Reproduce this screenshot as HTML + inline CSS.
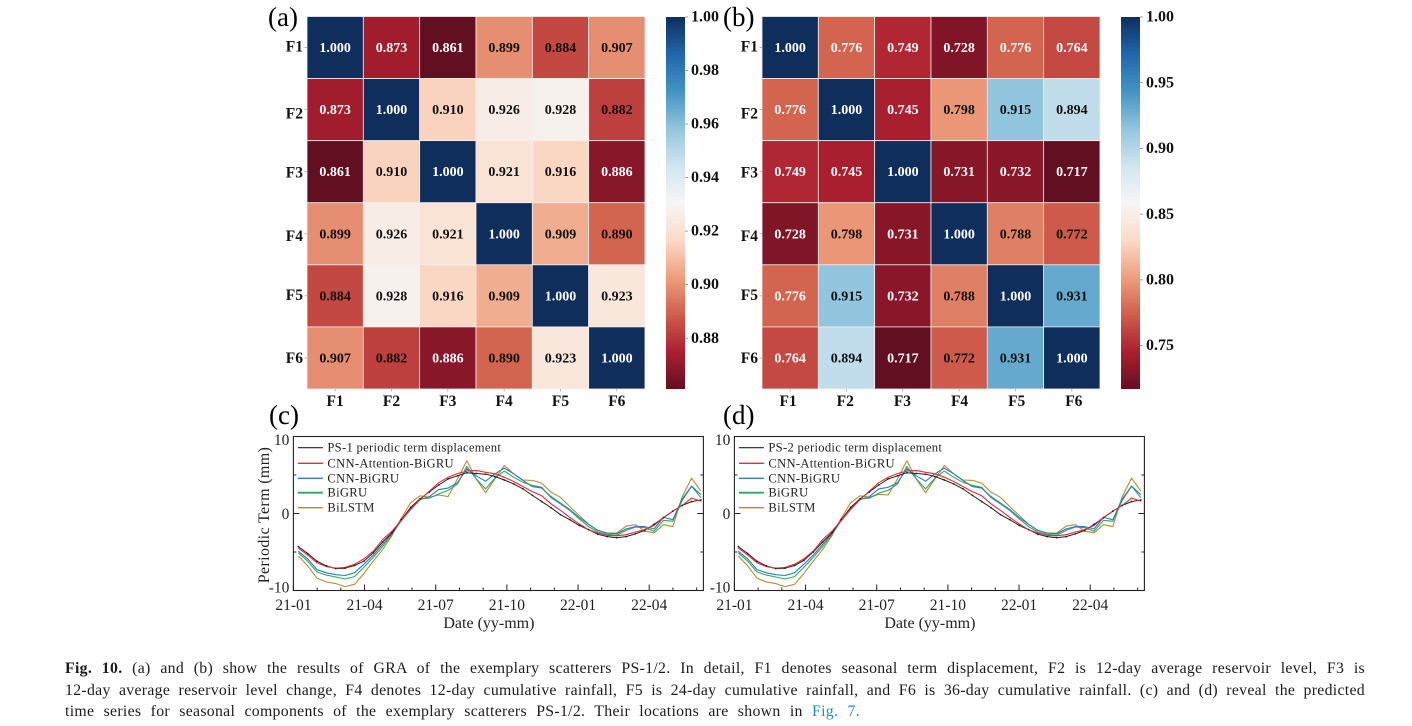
<!DOCTYPE html>
<html lang="en">
<head>
<meta charset="utf-8">
<title>Fig. 10 GRA results and predicted time series</title>
<style>
html,body{margin:0;padding:0;background:#fff;}
body{width:1412px;height:726px;overflow:hidden;position:relative;font-family:"Liberation Serif",serif;}
svg{position:absolute;left:0;top:0;}
.cap{position:absolute;left:65px;width:1300px;font-size:15.8px;line-height:18px;color:#1c1c1c;text-align:justify;text-align-last:justify;letter-spacing:.3px;white-space:nowrap;}
.cap b{font-weight:bold;}
.cap a{color:#1b8fc0;text-decoration:none;}
</style>
</head>
<body>
<svg id="fig" width="1412" height="726" viewBox="0 0 1412 726" xmlns="http://www.w3.org/2000/svg">
<defs>
<linearGradient id="rdbu" x1="0" y1="1" x2="0" y2="0">
<stop offset="0" stop-color="#630f22"/><stop offset=".1" stop-color="#ab1f2f"/><stop offset=".2" stop-color="#cf5e4c"/><stop offset=".3" stop-color="#ee9f7e"/><stop offset=".4" stop-color="#fbdac6"/><stop offset=".5" stop-color="#f6f6f6"/><stop offset=".6" stop-color="#d1e5f0"/><stop offset=".7" stop-color="#92c5de"/><stop offset=".8" stop-color="#4393c3"/><stop offset=".9" stop-color="#2166ac"/><stop offset="1" stop-color="#0f2e5c"/>
</linearGradient>
</defs>
<g id="panel-a"></g>
<g id="panel-b"></g>
<g id="panel-c"></g>
<g id="panel-d"></g>
<text x="268" y="26" font-size="27" font-family="Liberation Serif">(a)</text>
<text x="723" y="26" font-size="27" font-family="Liberation Serif">(b)</text>
<text x="269" y="424" font-size="27" font-family="Liberation Serif">(c)</text>
<text x="723" y="424" font-size="27" font-family="Liberation Serif">(d)</text>
</svg>
<div class="cap" style="top:660px"><b>Fig. 10.</b> (a) and (b) show the results of GRA of the exemplary scatterers PS-1/2. In detail, F1 denotes seasonal term displacement, F2 is 12-day average reservoir level, F3 is</div>
<div class="cap" style="top:682px">12-day average reservoir level change, F4 denotes 12-day cumulative rainfall, F5 is 24-day cumulative rainfall, and F6 is 36-day cumulative rainfall. (c) and (d) reveal the predicted</div>
<div class="cap" style="top:703px;width:795px">time series for seasonal components of the exemplary scatterers PS-1/2. Their locations are shown in <a href="#fig">Fig. 7.</a></div>
<script>
// ---- heatmap data ----
var factors = ['F1','F2','F3','F4','F5','F6'];
var valuesA = [
 [1.000,0.873,0.861,0.899,0.884,0.907],
 [0.873,1.000,0.910,0.926,0.928,0.882],
 [0.861,0.910,1.000,0.921,0.916,0.886],
 [0.899,0.926,0.921,1.000,0.909,0.890],
 [0.884,0.928,0.916,0.909,1.000,0.923],
 [0.907,0.882,0.886,0.890,0.923,1.000]
];
var valuesB = [
 [1.000,0.776,0.749,0.728,0.776,0.764],
 [0.776,1.000,0.745,0.798,0.915,0.894],
 [0.749,0.745,1.000,0.731,0.732,0.717],
 [0.728,0.798,0.731,1.000,0.788,0.772],
 [0.776,0.915,0.732,0.788,1.000,0.931],
 [0.764,0.894,0.717,0.772,0.931,1.000]
];
var ticksA = [1.00,0.98,0.96,0.94,0.92,0.90,0.88];
var ticksB = [1.00,0.95,0.90,0.85,0.80,0.75];
var whiteLabelsA = [1.000,0.873,0.861,0.886];
var whiteLabelsB = [1.000,0.776,0.764,0.749,0.745,0.732,0.731,0.728,0.717];
var colorShiftA = {'0.886':0.868,'0.907':0.899,'0.909':0.906,'0.910':0.915};

// ---- line chart data ----
var monthTicks = ['21-01','21-04','21-07','21-10','22-01','22-04'];
var yTicks = [10,0,-10];
var seriesNames = ['CNN-Attention-BiGRU','CNN-BiGRU','BiGRU','BiLSTM'];
var truthC = [-4.3,-5.2,-6.2,-6.8,-7.15,-7.1,-6.75,-6.2,-5.1,-3.7,-2.5,-0.8,0.8,1.9,2.8,3.7,4.5,4.9,5.3,5.2,5.1,4.8,4.35,3.85,3.2,2.35,1.55,0.75,-0.15,-0.8,-1.55,-2.1,-2.7,-3.0,-3.15,-3.0,-2.65,-2.2,-1.4,-0.55,0.3,1.05,1.55,1.75];
var attnC = [-4.5,-5.4,-6.4,-6.9,-7.1,-7.0,-6.6,-5.9,-4.9,-3.4,-2.3,-0.9,0.6,1.8,2.9,4.0,4.7,5.2,5.5,5.6,5.35,5.15,4.7,4.15,3.5,2.85,2.3,1.25,0.4,-0.5,-1.35,-2.1,-2.55,-2.85,-2.9,-2.75,-2.4,-2.1,-1.55,-0.5,0.3,1.05,2.0,1.6];
var cnnC = [-4.9,-5.9,-7.3,-7.7,-7.95,-8.05,-7.7,-6.6,-5.4,-4.0,-2.6,-0.9,0.5,1.8,2.2,3.1,3.3,4.0,5.8,4.9,4.2,5.15,5.9,5.15,4.3,3.5,3.3,2.2,1.35,0.5,-0.5,-1.4,-2.2,-2.55,-2.65,-2.0,-1.7,-1.7,-2.0,-0.5,-0.8,1.9,3.55,2.45];
var gruC = [-5.1,-6.2,-7.6,-8.0,-8.25,-8.5,-8.2,-7.0,-5.7,-4.3,-2.7,-0.9,0.6,1.9,2.0,2.55,3.0,3.85,6.1,4.5,3.2,4.6,5.5,4.7,4.05,3.65,3.4,2.05,1.25,0.4,-0.7,-1.7,-2.4,-2.7,-2.85,-2.2,-1.75,-1.85,-2.3,-0.9,-1.0,1.7,3.55,2.05];
var lstmC = [-5.5,-6.8,-8.4,-8.9,-9.1,-9.5,-9.2,-7.8,-6.2,-4.7,-2.9,-0.6,1.4,2.3,2.1,2.4,2.2,4.5,6.85,4.5,2.7,4.5,6.25,5.15,4.35,4.3,3.95,2.75,2.1,0.9,-0.25,-1.4,-2.2,-2.55,-2.55,-1.65,-1.45,-2.3,-2.5,-1.45,-1.7,2.2,4.6,2.9];
var truthD = [-4.3,-5.2,-6.2,-6.8,-7.15,-7.1,-6.75,-6.1,-5.0,-3.7,-2.5,-0.8,0.8,1.9,2.8,3.7,4.5,4.9,5.3,5.2,5.1,4.8,4.35,3.85,3.2,2.35,1.55,0.75,-0.15,-0.8,-1.55,-2.1,-2.7,-3.0,-3.15,-3.0,-2.65,-2.2,-1.4,-0.55,0.3,1.05,1.55,1.75];
var attnD = [-4.5,-5.4,-6.4,-6.9,-7.1,-7.0,-6.6,-5.9,-4.9,-3.4,-2.3,-0.9,0.6,1.8,2.9,4.0,4.7,5.2,5.5,5.6,5.35,5.15,4.7,4.15,3.5,2.85,2.3,1.25,0.4,-0.5,-1.35,-2.1,-2.55,-2.85,-2.9,-2.75,-2.4,-2.1,-1.55,-0.5,0.3,1.05,2.0,1.6];
var cnnD = [-4.9,-5.9,-7.3,-7.7,-7.95,-8.05,-7.7,-6.6,-5.4,-4.0,-2.6,-0.9,0.5,1.8,2.2,3.2,3.4,4.0,5.8,4.9,4.2,5.15,5.9,5.15,4.3,3.5,3.3,2.2,1.35,0.5,-0.5,-1.4,-2.2,-2.55,-2.65,-2.0,-1.7,-1.7,-2.0,-0.5,-0.8,1.9,3.55,2.45];
var gruD = [-5.1,-6.2,-7.6,-8.0,-8.25,-8.5,-8.2,-7.0,-5.7,-4.3,-2.7,-0.9,0.6,1.9,2.0,2.65,3.0,3.85,6.1,4.5,3.2,4.6,5.5,4.7,4.05,3.65,3.4,2.05,1.25,0.4,-0.7,-1.7,-2.4,-2.7,-2.85,-2.2,-1.75,-1.85,-2.3,-0.9,-1.0,1.7,3.55,2.05];
var lstmD = [-5.5,-6.8,-8.4,-8.9,-9.1,-9.5,-9.2,-7.8,-6.2,-4.7,-2.9,-0.6,1.4,2.3,2.1,2.5,2.4,4.5,6.85,4.5,2.7,4.5,6.25,5.15,4.35,4.3,3.95,2.75,2.1,0.9,-0.25,-1.4,-2.2,-2.55,-2.55,-1.65,-1.45,-2.3,-2.5,-1.45,-1.7,2.2,4.6,2.9];

var NS = 'http://www.w3.org/2000/svg';
var FONT = '"Liberation Serif", serif';
var rdbu = [[99,15,34],[171,31,47],[207,94,76],[238,159,126],[251,218,198],[246,246,246],[209,229,240],[146,197,222],[67,147,195],[33,102,172],[15,46,92]];

function rampColor(t){
  t = Math.max(0, Math.min(1, t)) * 10;
  var i = Math.min(9, Math.floor(t)), f = t - i, a = rdbu[i], b = rdbu[i + 1];
  return 'rgb(' + Math.round(a[0] + (b[0] - a[0]) * f) + ',' + Math.round(a[1] + (b[1] - a[1]) * f) + ',' + Math.round(a[2] + (b[2] - a[2]) * f) + ')';
}
function mk(parent, tag, attrs, txt){
  var el = document.createElementNS(NS, tag);
  for (var k in attrs) el.setAttribute(k, attrs[k]);
  if (txt !== undefined) el.textContent = txt;
  parent.appendChild(el);
  return el;
}

function drawHeatmap(host, values, ticks, whites, shift, left, barLeft, vmin, spread){
  var top = 16.5, cw = 56.33, ch = 62.08;
  var labelNudge = [-1, 4, 1, 2, -1, 0];
  var cy = function(v){ return 17 + (1 - v) / (1 - vmin) * 372; };
  values.forEach(function(row, r){
    row.forEach(function(v, c){
      var cv = shift[v.toFixed(3)] !== undefined ? shift[v.toFixed(3)] : v;
      var cell = mk(host, 'rect', {x: left + c * cw, y: top + r * ch, width: cw, height: ch, fill: rampColor((cv - vmin) / (1 - vmin)), stroke: '#f4eeee', 'stroke-width': 0.8});
      
      
      var isWhite = whites.some(function(w){ return Math.abs(w - v) < 1e-6; });
      var t = mk(host, 'text', {x: left + (c + .5) * cw, y: top + (r + .5) * ch + 4.5, 'text-anchor': 'middle', 'font-size': 14, 'font-weight': 'bold', 'font-family': FONT, fill: isWhite ? '#fff' : '#111'}, v.toFixed(3));
      
      
    });
  });
  factors.forEach(function(f, i){
    var yl = mk(host, 'text', {x: left - 4, y: top + (i + .5) * ch + 5 + labelNudge[i], 'text-anchor': 'end', 'font-size': 15.5, 'font-weight': 'bold', 'font-family': FONT, fill: '#111'}, f);
    
    
    var xl = mk(host, 'text', {x: left + (i + .5) * cw + (i - 2.5) * spread, y: 406, 'text-anchor': 'middle', 'font-size': 15.5, 'font-weight': 'bold', 'font-family': FONT, fill: '#111'}, f);
    
    
    mk(host, 'line', {x1: left + (i + .5) * cw, x2: left + (i + .5) * cw, y1: 389, y2: 391.5, stroke: '#999', 'stroke-width': .7});
    mk(host, 'line', {x1: left - 2.5, x2: left, y1: top + (i + .5) * ch, y2: top + (i + .5) * ch, stroke: '#999', 'stroke-width': .7});
  });
  var bar = mk(host, 'rect', {x: barLeft, y: 17, width: 19, height: 372, fill: 'url(#rdbu)'});
  
  
  ticks.forEach(function(v){
    mk(host, 'line', {x1: barLeft + 19, x2: barLeft + 22, y1: cy(v), y2: cy(v), stroke: '#777', 'stroke-width': .7});
    var l = mk(host, 'text', {x: barLeft + 25, y: cy(v) + 4.6, 'font-size': 16, 'font-weight': 'bold', 'font-family': FONT, fill: '#111'}, v.toFixed(2));
    
    
  });
}

function drawLines(host, left, pointLeft, legendTitle, truth, attn, cnn, gru, lstm){
  var right = left + 410, top = 436.5, bottom = 590.5, monthPx = 23.72;
  var yS = function(v){ return 513.5 - v * 7.7; };
  var xS = function(i){ return pointLeft + i * 12 / 30.4 * monthPx; };
  var mX = function(m){ return left + m * monthPx; };
  var frame = mk(host, 'rect', {x: left, y: top, width: right - left, height: bottom - top, fill: '#fff', stroke: '#222', 'stroke-width': 1.1});
  
  
  for (var m = 0; m < 18; m++) {
    var major = m % 3 === 0;
    mk(host, 'line', {x1: mX(m), x2: mX(m), y1: bottom, y2: bottom - (major ? 6 : 3), stroke: '#222', 'stroke-width': 1});
  }
  monthTicks.forEach(function(lbl, i){
    var t = mk(host, 'text', {x: mX(i * 3), y: 610, 'text-anchor': 'middle', 'font-size': 15.5, 'font-family': FONT, fill: '#222'}, lbl);
    
    
  });
  [-5, 5].forEach(function(v){
    mk(host, 'line', {x1: left, x2: left + 3, y1: yS(v), y2: yS(v), stroke: '#222', 'stroke-width': 1});
    mk(host, 'line', {x1: right, x2: right - 3, y1: yS(v), y2: yS(v), stroke: '#222', 'stroke-width': 1});
  });
  mk(host, 'line', {x1: left, x2: left + 6, y1: yS(0), y2: yS(0), stroke: '#222', 'stroke-width': 1});
  mk(host, 'line', {x1: right, x2: right - 6, y1: yS(0), y2: yS(0), stroke: '#222', 'stroke-width': 1});
  yTicks.forEach(function(v){
    var off = v === 10 ? 8.5 : (v === 0 ? 5.5 : 2);
    var t = mk(host, 'text', {x: left - 4, y: yS(v) + off, 'text-anchor': 'end', 'font-size': 15.5, 'font-family': FONT, fill: '#222'}, String(v));
    
    
  });
  var xt = mk(host, 'text', {x: left + 195.5, y: 628, 'text-anchor': 'middle', 'font-size': 16, 'font-family': FONT, fill: '#222'}, 'Date (yy-mm)');
  
  
  if (left < 500) {
    var yt = mk(host, 'text', {x: 0, y: 0, transform: 'translate(269,515) rotate(-90)', 'text-anchor': 'middle', 'font-size': 16, 'letter-spacing': .35, 'font-family': FONT, fill: '#222'}, 'Periodic Term (mm)');
    
    
  }
  var series = [
    {d: truth, c: '#222222', w: 1},
    {d: attn, c: '#ee2a33', w: 1.1},
    {d: cnn, c: '#2b7cc4', w: 1.1},
    {d: gru, c: '#2aa866', w: 1.1},
    {d: lstm, c: '#b98a33', w: 1.1}
  ];
  [4, 3, 2, 0, 1].forEach(function(k){
    var s = series[k];
    var pts = s.d.map(function(v, i){ return xS(i).toFixed(1) + ',' + yS(v).toFixed(1); }).join(' ');
    var pl = mk(host, 'polyline', {points: pts, fill: 'none', stroke: s.c, 'stroke-width': s.w, 'stroke-linejoin': 'round'});
    
    
  });
  truth.forEach(function(v, i){
    var dot = mk(host, 'circle', {cx: xS(i), cy: yS(v), r: .9, fill: '#222'});
    
    
  });
  var names = [legendTitle].concat(seriesNames);
  var lys = [447.7, 463.3, 478.3, 492.7, 507.7];
  var lwid = [1.1, 1.3, 1.3, 1.8, 1.3];
  names.forEach(function(n, i){
    var sw = mk(host, 'line', {x1: left + 4.5, x2: left + 29.5, y1: lys[i], y2: lys[i], stroke: series[i].c, 'stroke-width': lwid[i]});
    
    
    var t = mk(host, 'text', {x: left + 34, y: lys[i] + 4, 'font-size': 12.6, 'letter-spacing': .29, 'font-family': FONT, fill: '#222'}, n);
    
    
  });
}

drawHeatmap(document.getElementById('panel-a'), valuesA, ticksA, whiteLabelsA, colorShiftA, 307, 666, 0.861, 0);
drawHeatmap(document.getElementById('panel-b'), valuesB, ticksB, whiteLabelsB, {}, 762, 1121, 0.717, 0.8);
drawLines(document.getElementById('panel-c'), 293.4, 298.3, 'PS-1 periodic term displacement', truthC, attnC, cnnC, gruC, lstmC);
drawLines(document.getElementById('panel-d'), 734.4, 738.3, 'PS-2 periodic term displacement', truthD, attnD, cnnD, gruD, lstmD);
</script>
</body>
</html>
